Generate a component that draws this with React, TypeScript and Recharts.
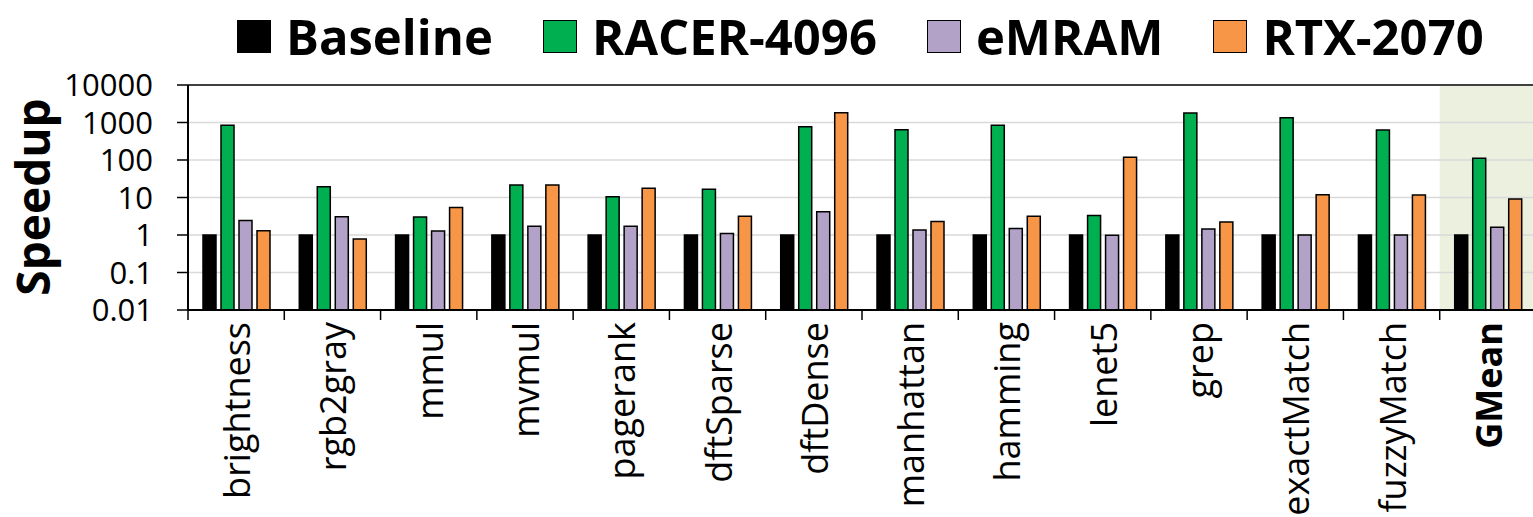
import React from 'react';
import {
  BarChart,
  Bar,
  XAxis,
  YAxis,
  CartesianGrid,
  Legend,
  ReferenceArea,
  ReferenceLine,
} from 'recharts';

const CATEGORIES = [
  'brightness',
  'rgb2gray',
  'mmul',
  'mvmul',
  'pagerank',
  'dftSparse',
  'dftDense',
  'manhattan',
  'hamming',
  'lenet5',
  'grep',
  'exactMatch',
  'fuzzyMatch',
  'GMean',
];

const BASELINE = [1, 1, 1, 1, 1, 1, 1, 1, 1, 1, 1, 1, 1, 1];
const RACER = [850, 19.4, 3.0, 21.5, 10.5, 16.5, 770, 640, 850, 3.3, 1800, 1340, 630, 111];
const EMRAM = [2.45, 3.05, 1.28, 1.72, 1.72, 1.1, 4.2, 1.36, 1.48, 0.98, 1.45, 1.0, 1.0, 1.6];
const RTX = [1.3, 0.78, 5.4, 21.5, 17.6, 3.15, 1830, 2.3, 3.15, 118, 2.22, 11.9, 11.7, 9.1];

const Y_TICKS = [0.01, 0.1, 1, 10, 100, 1000, 10000];

const SERIES = [
  { key: 'Baseline', color: '#000000' },
  { key: 'RACER-4096', color: '#00b050' },
  { key: 'eMRAM', color: '#b3a2c7' },
  { key: 'RTX-2070', color: '#f79646' },
];

const FONT = '"Open Sans", "DejaVu Sans", sans-serif';

const CHART_W = 1540;
const CHART_H = 517;
const Y_AXIS_W = 188;
const X_AXIS_H = 30;
const MARGIN = { top: 85, right: 4, bottom: 517 - 310 - X_AXIS_H, left: 0 };
const BAND = (CHART_W - Y_AXIS_W - MARGIN.left - MARGIN.right) / CATEGORIES.length;

const data = CATEGORIES.map((c, i) => ({
  name: c,
  Baseline: BASELINE[i],
  'RACER-4096': RACER[i],
  eMRAM: EMRAM[i],
  'RTX-2070': RTX[i],
}));

// category label rotated, tick mark drawn on the left band boundary
function CategoryTick(props: any) {
  const { x, y, payload } = props;
  const bold = payload.value === 'GMean';
  const left = x - BAND / 2;
  const tx = x + 14;
  const ty = y + 12;
  return (
    <g>
      <line x1={left} x2={left} y1={y} y2={y + 10} stroke="#000" strokeWidth={1.5} />
      <text
        x={tx}
        y={ty}
        transform={`rotate(-90 ${tx} ${ty})`}
        textAnchor="end"
        fontFamily={FONT}
        fontSize={36}
        fontWeight={bold ? 700 : 400}
        fill="#000"
      >
        {payload.value}
      </text>
    </g>
  );
}

function LegendContent() {
  return (
    <div style={{ display: 'flex', alignItems: 'center', fontFamily: FONT }}>
      {SERIES.map((s, i) => (
        <div
          key={s.key}
          style={{ display: 'flex', alignItems: 'center', marginLeft: i === 0 ? 0 : 50 }}
        >
          <div
            style={{
              width: 34,
              height: 33,
              boxSizing: 'border-box',
              background: s.color,
              border: '1.5px solid #000',
              marginRight: 15,
            }}
          />
          <span style={{ fontSize: 49, fontWeight: 700, lineHeight: 1, color: '#000' }}>{s.key}</span>
        </div>
      ))}
    </div>
  );
}

function SpeedupLabel() {
  return (
    <text
      x={50}
      y={197}
      transform="rotate(-90 50 197)"
      textAnchor="middle"
      fontFamily={FONT}
      fontSize={46}
      fontWeight={700}
      fill="#000"
    >
      Speedup
    </text>
  );
}

export default function App() {
  return (
    <div
      style={{
        position: 'absolute',
        left: 0,
        top: 0,
        width: 1533,
        height: 517,
        overflow: 'hidden',
        background: '#fff',
      }}
    >
      <BarChart
        width={CHART_W}
        height={CHART_H}
        data={data}
        margin={MARGIN}
        barCategoryGap={15}
        barGap={5}
        style={{ fontFamily: FONT }}
      >
        <ReferenceArea
          x1="GMean"
          x2="GMean"
          fill="#ebf1de"
          fillOpacity={1}
          stroke="none"
          ifOverflow="extendDomain"
          zIndex={-150}
        />
        <CartesianGrid vertical={false} stroke="#d9d9d9" strokeWidth={1.5} />
        <ReferenceLine y={10000} stroke="#404040" strokeWidth={2} />
        <XAxis
          dataKey="name"
          interval={0}
          height={X_AXIS_H}
          tickLine={false}
          tickSize={0}
          tickMargin={0}
          axisLine={{ stroke: '#000', strokeWidth: 2 }}
          tick={<CategoryTick />}
        />
        <YAxis
          scale="log"
          domain={[0.01, 10000]}
          ticks={Y_TICKS}
          interval={0}
          allowDataOverflow
          width={Y_AXIS_W}
          tickSize={11}
          tickMargin={24}
          tickFormatter={(v: number) => String(v)}
          tick={{ fill: '#000', fontSize: 31, fontFamily: FONT }}
          tickLine={{ stroke: '#000', strokeWidth: 1.5 }}
          axisLine={{ stroke: '#000', strokeWidth: 2 }}
          label={<SpeedupLabel />}
        />
        <Legend
          verticalAlign="middle"
          align="center"
          content={<LegendContent />}
          wrapperStyle={{ top: 12, left: 237, width: 'auto', height: 'auto' }}
        />
        {SERIES.map(s => (
          <Bar
            key={s.key}
            dataKey={s.key}
            fill={s.color}
            stroke="#000"
            strokeWidth={1.5}
            isAnimationActive={false}
          />
        ))}
      </BarChart>
    </div>
  );
}
